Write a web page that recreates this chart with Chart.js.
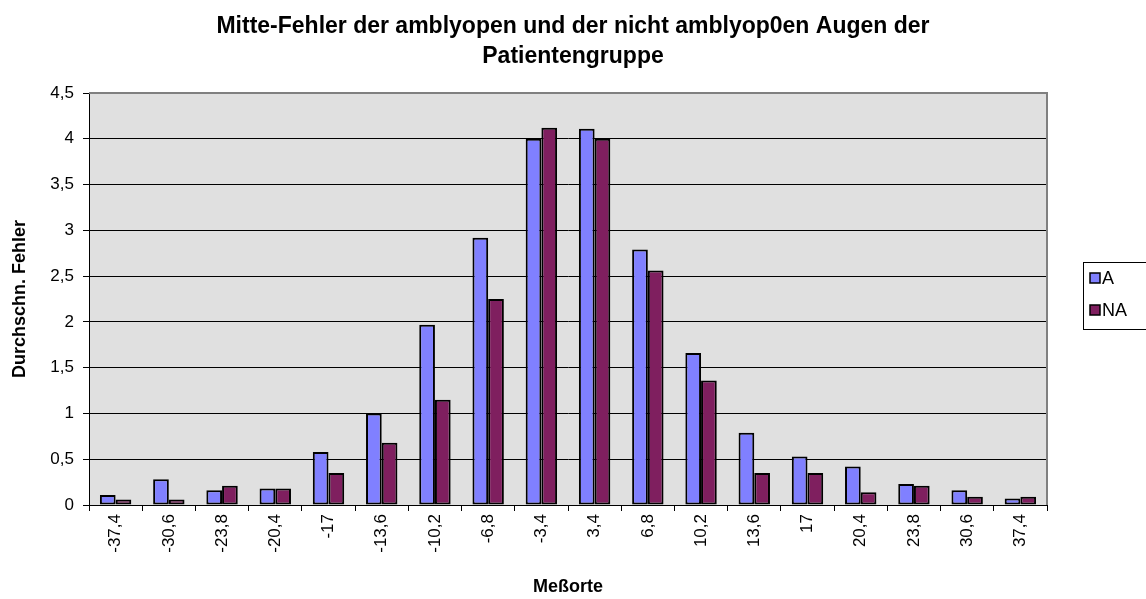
<!DOCTYPE html>
<html>
<head>
<meta charset="utf-8">
<script src="https://cdn.jsdelivr.net/npm/chart.js@4"></script>
<style>
  html, body { margin: 0; padding: 0; background: #fff; }
</style>
</head>
<body>
<canvas id="barChart" width="1146" height="599"></canvas>
<script>
const messorte = ['-37,4', '-30,6', '-23,8', '-20,4', '-17', '-13,6', '-10,2', '-6,8', '-3,4',
                  '3,4', '6,8', '10,2', '13,6', '17', '20,4', '23,8', '30,6', '37,4'];
const fehlerA = [0.11, 0.28, 0.16, 0.18, 0.58, 1.00, 1.97, 2.92, 4.00,
                 4.11, 2.79, 1.66, 0.79, 0.53, 0.42, 0.23, 0.16, 0.07];
const fehlerNA = [0.06, 0.06, 0.21, 0.18, 0.35, 0.68, 1.15, 2.25, 4.12,
                  4.00, 2.56, 1.36, 0.35, 0.35, 0.14, 0.21, 0.09, 0.09];
const serien = ['A', 'NA'];
const yMax = 4.5;
const yStep = 0.5;

Chart.defaults.font.family = '"Liberation Sans", Arial, sans-serif';
Chart.defaults.color = '#000';

const farben = ['#8080ff', '#7f1f5f'];

// grauer Hintergrund der Zeichenfläche
const plotHintergrund = {
    id: 'plotHintergrund',
    beforeDraw(chart) {
        const {ctx, chartArea: a} = chart;
        ctx.save();
        ctx.fillStyle = '#fff';
        ctx.fillRect(0, 0, chart.width, chart.height);
        ctx.fillStyle = '#e0e0e0';
        ctx.fillRect(a.left, a.top, a.right - a.left, a.bottom - a.top);
        ctx.restore();
    },
    beforeDatasetsDraw(chart) {
        const {ctx, chartArea: a} = chart;
        ctx.save();
        ctx.strokeStyle = '#808080';
        ctx.lineWidth = 2;
        ctx.beginPath();
        ctx.moveTo(a.left, a.top);
        ctx.lineTo(a.right, a.top);
        ctx.lineTo(a.right, a.bottom);
        ctx.stroke();
        ctx.restore();
    }
};

// Legende mit Rahmen wie in Excel
const kastenLegende = {
    id: 'kastenLegende',
    afterDraw(chart) {
        const ctx = chart.ctx;
        const x = 1083, y = 262;
        ctx.save();
        ctx.fillStyle = '#fff';
        ctx.fillRect(x, y, 70, 68);
        ctx.strokeStyle = '#000';
        ctx.lineWidth = 1;
        ctx.strokeRect(x + 0.5, y + 0.5, 70, 67);
        ctx.font = '18px "Liberation Sans", Arial, sans-serif';
        ctx.textBaseline = 'middle';
        chart.data.datasets.forEach((ds, i) => {
            const cy = y + 16 + i * 32;
            ctx.fillStyle = ds.backgroundColor;
            ctx.fillRect(x + 7, cy - 5, 10, 10);
            ctx.strokeStyle = '#000';
            ctx.lineWidth = 1.5;
            ctx.strokeRect(x + 7, cy - 5, 10, 10);
            ctx.fillStyle = '#000';
            ctx.fillText(ds.label, x + 19, cy + 1);
        });
        ctx.restore();
    }
};

const data = {
    labels: messorte,
    datasets: [
        { label: serien[0], data: fehlerA, backgroundColor: farben[0] },
        { label: serien[1], data: fehlerNA, backgroundColor: farben[1] }
    ]
};

const options = {
    responsive: false,
    animation: false,
    layout: { padding: 0 },
    datasets: {
        bar: {
            borderColor: '#000',
            borderWidth: 2,
            borderSkipped: false,
            categoryPercentage: 0.59,
            barPercentage: 1.0
        }
    },
    plugins: {
        legend: { display: false },
        tooltip: { enabled: false },
        title: {
            display: true,
            text: ['Mitte-Fehler der amblyopen und der nicht amblyop0en Augen der', 'Patientengruppe'],
            font: { size: 23, weight: 'bold', lineHeight: 1.3 },
            color: '#000',
            padding: { top: 12, bottom: 21.2 }
        }
    },
    scales: {
        x: {
            afterFit: (s) => { s.height = 94; },
            grid: { offset: true, drawOnChartArea: false, tickLength: 6, color: '#000' },
            border: { color: '#000', width: 1 },
            ticks: { minRotation: 90, maxRotation: 90, autoSkip: false, padding: 3, font: { size: 17 } },
            title: { display: true, text: 'Meßorte', font: { size: 18, weight: 'bold' }, padding: { top: 0, bottom: 1.2 } }
        },
        y: {
            min: 0,
            max: yMax,
            afterFit: (s) => { s.width = 89; },
            grid: { color: '#000', tickLength: 6 },
            border: { color: '#000', width: 1 },
            ticks: {
                stepSize: yStep,
                padding: 9,
                font: { size: 17 },
                callback: (v) => String(v).replace('.', ',')
            },
            title: { display: true, text: 'Durchschn. Fehler', font: { size: 18, weight: 'bold' }, padding: { top: 9.2, bottom: 0 } }
        },
        // leere Achse rechts: Platz für die Legende
        rechts: {
            position: 'right',
            afterFit: (s) => { s.width = 99; },
            grid: { display: false },
            border: { display: false },
            ticks: { display: false }
        }
    }
};

new Chart('barChart', {
    type: 'bar',
    data,
    options,
    plugins: [plotHintergrund, kastenLegende]
});
</script>
</body>
</html>
